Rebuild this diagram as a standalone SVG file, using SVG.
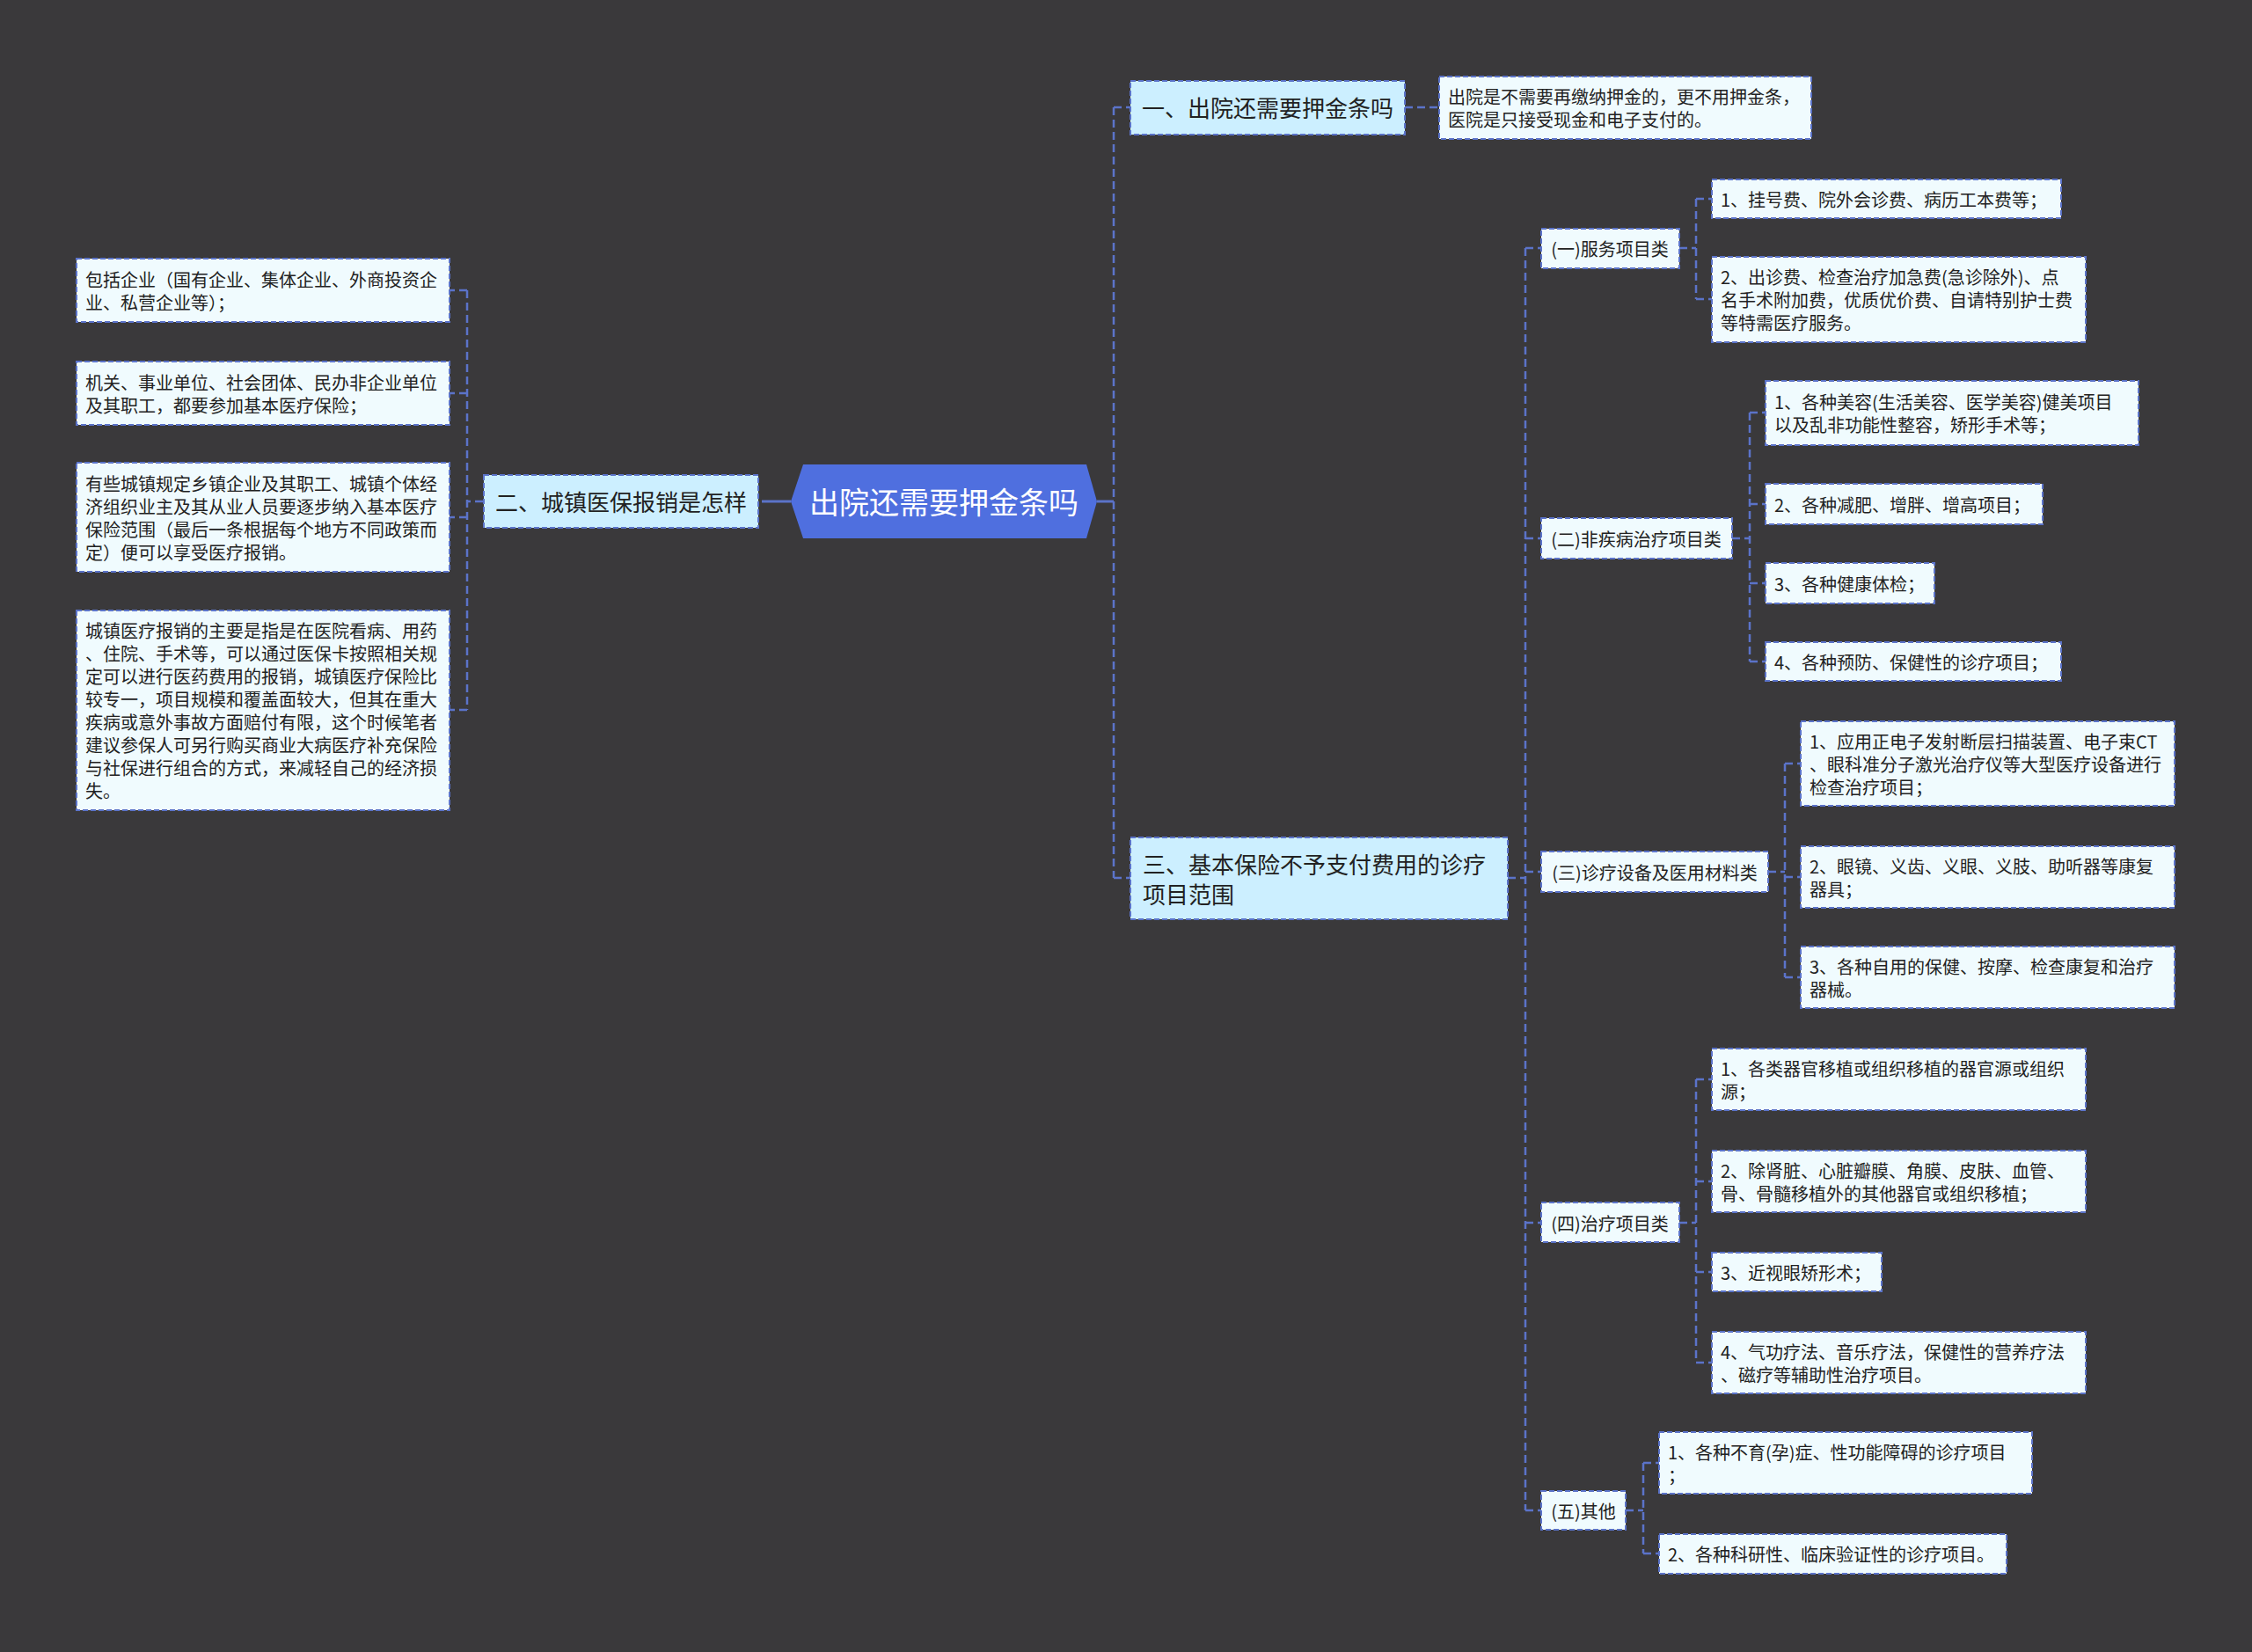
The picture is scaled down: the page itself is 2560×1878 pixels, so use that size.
<svg xmlns="http://www.w3.org/2000/svg" width="2560" height="1878" viewBox="0 0 2560 1878">
<style>
.bg{fill:#3a393b}
.box{stroke:#5b73c9;stroke-width:2;stroke-dasharray:6 3}
.l1{fill:#ccefff}
.lf{fill:#f0fbfe}
.t{font-family:"Noto Sans CJK SC","Noto Sans",sans-serif;fill:#222222;dominant-baseline:central}
.f20{font-size:20px}
.f26{font-size:26px}
.root{fill:#4f6fdf}
.rt{font-family:"Noto Sans CJK SC","Noto Sans",sans-serif;font-size:34px;fill:#ffffff;dominant-baseline:central;text-anchor:middle}
.mid{text-anchor:middle}
.cn{fill:none;stroke:#5b73c9;stroke-width:2.5;stroke-dasharray:9 5}
.cs{fill:none;stroke:#5b73c9;stroke-width:3}
</style>
<rect class="bg" x="0" y="0" width="2560" height="1878"/>

<g id="connectors">
<path class="cs" d="M866,570 H899 M1247,570 H1266"/>
<path class="cn" d="M549,570 H531 M531,330 V807 M531,330 H511 M531,447 H511 M531,588 H511 M531,807 H511"/>
<path class="cn" d="M1266,122 V998 M1266,122 H1285 M1266,998 H1285"/>
<path class="cn" d="M1597,122 H1636"/>
<path class="cn" d="M1714,998 H1734 M1734,282 V1717 M1734,282 H1752 M1734,612 H1752 M1734,991 H1752 M1734,1390 H1752 M1734,1717 H1752"/>
<path class="cn" d="M1909,282 H1928 M1928,226 V340 M1928,226 H1946 M1928,340 H1946"/>
<path class="cn" d="M1969,612 H1989 M1989,469 V752 M1989,469 H2007 M1989,573 H2007 M1989,663 H2007 M1989,752 H2007"/>
<path class="cn" d="M2010,991 H2029 M2029,868 V1111 M2029,868 H2047 M2029,997 H2047 M2029,1111 H2047"/>
<path class="cn" d="M1909,1390 H1928 M1928,1227 V1549 M1928,1227 H1946 M1928,1343 H1946 M1928,1446 H1946 M1928,1549 H1946"/>
<path class="cn" d="M1848,1717 H1868 M1868,1663 V1766 M1868,1663 H1886 M1868,1766 H1886"/>
</g>

<g id="root">
<polygon class="root" points="899,570 913,528 1235,528 1247,570 1235,612 913,612"/>
<text class="rt" x="1073" y="569">出院还需要押金条吗</text>
</g>

<g id="n2">
<rect class="box l1" x="550" y="540" width="312" height="60"/>
<text class="t f26 mid" x="706" y="569">二、城镇医保报销是怎样</text>
</g>
<g id="n2-1">
<rect class="box lf" x="87" y="294" width="424" height="72"/>
<text class="t f20" x="97"><tspan x="97" y="317">包括企业（国有企业、集体企业、外商投资企</tspan><tspan x="97" y="343">业、私营企业等）；</tspan></text>
</g>
<g id="n2-2">
<rect class="box lf" x="87" y="411" width="424" height="72"/>
<text class="t f20" x="97"><tspan x="97" y="434">机关、事业单位、社会团体、民办非企业单位</tspan><tspan x="97" y="460">及其职工，都要参加基本医疗保险；</tspan></text>
</g>
<g id="n2-3">
<rect class="box lf" x="87" y="526" width="424" height="124"/>
<text class="t f20" x="97"><tspan x="97" y="549">有些城镇规定乡镇企业及其职工、城镇个体经</tspan><tspan x="97" y="575">济组织业主及其从业人员要逐步纳入基本医疗</tspan><tspan x="97" y="601">保险范围（最后一条根据每个地方不同政策而</tspan><tspan x="97" y="627">定）便可以享受医疗报销。</tspan></text>
</g>
<g id="n2-4">
<rect class="box lf" x="87" y="694" width="424" height="227"/>
<text class="t f20" x="97"><tspan x="97" y="716">城镇医疗报销的主要是指是在医院看病、用药</tspan><tspan x="97" y="742">、住院、手术等，可以通过医保卡按照相关规</tspan><tspan x="97" y="768">定可以进行医药费用的报销，城镇医疗保险比</tspan><tspan x="97" y="794">较专一，项目规模和覆盖面较大，但其在重大</tspan><tspan x="97" y="820">疾病或意外事故方面赔付有限，这个时候笔者</tspan><tspan x="97" y="846">建议参保人可另行购买商业大病医疗补充保险</tspan><tspan x="97" y="872">与社保进行组合的方式，来减轻自己的经济损</tspan><tspan x="97" y="898">失。</tspan></text>
</g>

<g id="n1">
<rect class="box l1" x="1285" y="92" width="312" height="61"/>
<text class="t f26 mid" x="1441" y="121">一、出院还需要押金条吗</text>
</g>
<g id="n1-1">
<rect class="box lf" x="1636" y="87" width="423" height="71"/>
<text class="t f20" x="1646"><tspan x="1646" y="109">出院是不需要再缴纳押金的，更不用押金条，</tspan><tspan x="1646" y="135">医院是只接受现金和电子支付的。</tspan></text>
</g>

<g id="n3">
<rect class="box l1" x="1285" y="952" width="429" height="93"/>
<text class="t f26" x="1299"><tspan x="1299" y="981">三、基本保险不予支付费用的诊疗</tspan><tspan x="1299" y="1015">项目范围</tspan></text>
</g>

<g id="c1">
<rect class="box lf" x="1752" y="260" width="157" height="45"/>
<text class="t f20 mid" x="1830" y="282">(一)服务项目类</text>
</g>
<g id="c1-1">
<rect class="box lf" x="1946" y="204" width="397" height="44"/>
<text class="t f20" x="1956" y="226">1、挂号费、院外会诊费、病历工本费等；</text>
</g>
<g id="c1-2">
<rect class="box lf" x="1946" y="292" width="425" height="97"/>
<text class="t f20" x="1956"><tspan x="1956" y="314">2、出诊费、检查治疗加急费(急诊除外)、点</tspan><tspan x="1956" y="340">名手术附加费，优质优价费、自请特别护士费</tspan><tspan x="1956" y="366">等特需医疗服务。</tspan></text>
</g>

<g id="c2">
<rect class="box lf" x="1752" y="589" width="217" height="46"/>
<text class="t f20 mid" x="1860" y="612">(二)非疾病治疗项目类</text>
</g>
<g id="c2-1">
<rect class="box lf" x="2007" y="433" width="424" height="73"/>
<text class="t f20" x="2017"><tspan x="2017" y="456">1、各种美容(生活美容、医学美容)健美项目</tspan><tspan x="2017" y="482">以及乱非功能性整容，矫形手术等；</tspan></text>
</g>
<g id="c2-2">
<rect class="box lf" x="2007" y="550" width="315" height="46"/>
<text class="t f20" x="2017" y="573">2、各种减肥、增胖、增高项目；</text>
</g>
<g id="c2-3">
<rect class="box lf" x="2007" y="640" width="192" height="46"/>
<text class="t f20" x="2017" y="663">3、各种健康体检；</text>
</g>
<g id="c2-4">
<rect class="box lf" x="2007" y="730" width="336" height="44"/>
<text class="t f20" x="2017" y="752">4、各种预防、保健性的诊疗项目；</text>
</g>

<g id="c3">
<rect class="box lf" x="1752" y="968" width="258" height="46"/>
<text class="t f20 mid" x="1881" y="991">(三)诊疗设备及医用材料类</text>
</g>
<g id="c3-1">
<rect class="box lf" x="2047" y="820" width="425" height="96"/>
<text class="t f20" x="2057"><tspan x="2057" y="842">1、应用正电子发射断层扫描装置、电子束CT</tspan><tspan x="2057" y="868">、眼科准分子激光治疗仪等大型医疗设备进行</tspan><tspan x="2057" y="894">检查治疗项目；</tspan></text>
</g>
<g id="c3-2">
<rect class="box lf" x="2047" y="962" width="425" height="70"/>
<text class="t f20" x="2057"><tspan x="2057" y="984">2、眼镜、义齿、义眼、义肢、助听器等康复</tspan><tspan x="2057" y="1010">器具；</tspan></text>
</g>
<g id="c3-3">
<rect class="box lf" x="2047" y="1076" width="425" height="70"/>
<text class="t f20" x="2057"><tspan x="2057" y="1098">3、各种自用的保健、按摩、检查康复和治疗</tspan><tspan x="2057" y="1124">器械。</tspan></text>
</g>

<g id="c4">
<rect class="box lf" x="1752" y="1367" width="157" height="45"/>
<text class="t f20 mid" x="1830" y="1390">(四)治疗项目类</text>
</g>
<g id="c4-1">
<rect class="box lf" x="1946" y="1192" width="425" height="70"/>
<text class="t f20" x="1956"><tspan x="1956" y="1214">1、各类器官移植或组织移植的器官源或组织</tspan><tspan x="1956" y="1240">源；</tspan></text>
</g>
<g id="c4-2">
<rect class="box lf" x="1946" y="1308" width="425" height="70"/>
<text class="t f20" x="1956"><tspan x="1956" y="1330">2、除肾脏、心脏瓣膜、角膜、皮肤、血管、</tspan><tspan x="1956" y="1356">骨、骨髓移植外的其他器官或组织移植；</tspan></text>
</g>
<g id="c4-3">
<rect class="box lf" x="1946" y="1424" width="193" height="44"/>
<text class="t f20" x="1956" y="1446">3、近视眼矫形术；</text>
</g>
<g id="c4-4">
<rect class="box lf" x="1946" y="1514" width="425" height="70"/>
<text class="t f20" x="1956"><tspan x="1956" y="1536">4、气功疗法、音乐疗法，保健性的营养疗法</tspan><tspan x="1956" y="1562">、磁疗等辅助性治疗项目。</tspan></text>
</g>

<g id="c5">
<rect class="box lf" x="1752" y="1695" width="96" height="44"/>
<text class="t f20 mid" x="1800" y="1717">(五)其他</text>
</g>
<g id="c5-1">
<rect class="box lf" x="1886" y="1628" width="424" height="70"/>
<text class="t f20" x="1896"><tspan x="1896" y="1650">1、各种不育(孕)症、性功能障碍的诊疗项目</tspan><tspan x="1896" y="1676">；</tspan></text>
</g>
<g id="c5-2">
<rect class="box lf" x="1886" y="1744" width="395" height="45"/>
<text class="t f20" x="1896" y="1766">2、各种科研性、临床验证性的诊疗项目。</text>
</g>
</svg>
